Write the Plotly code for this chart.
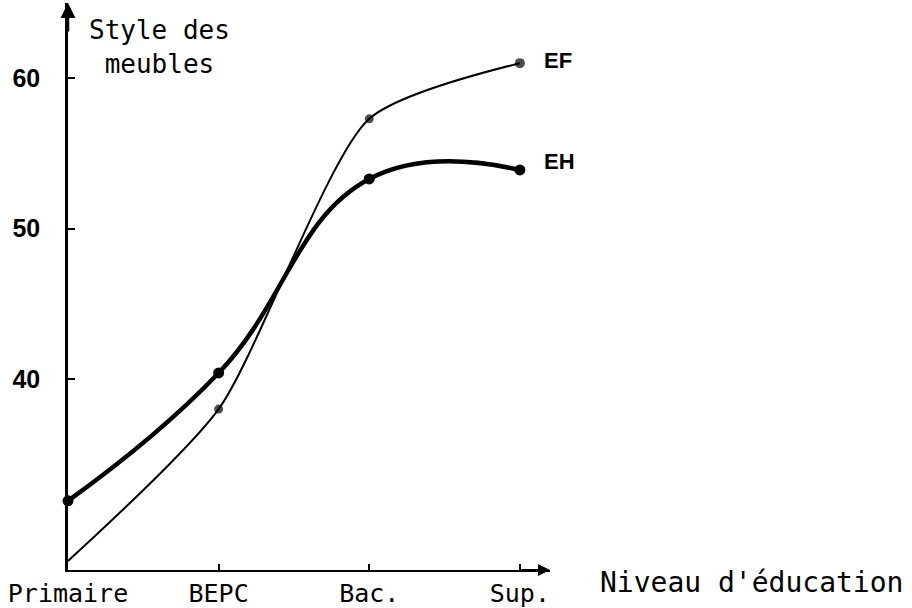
import plotly.graph_objects as go

# Niveau d'éducation (x categories)
niveaux = ["Primaire", "BEPC", "Bac.", "Sup."]

# Style des meubles
ef_values = [27.9, 38.0, 57.3, 61.0]   # EF, thin line, no dot at Primaire
eh_values = [31.9, 40.4, 53.3, 53.9]   # EH, thick line

y_ticks = [40, 50, 60]

MONO = "DejaVu Sans Mono"
SANS = "Liberation Sans"

Y_MIN, Y_MAX = 27.3, 65
X_MAX = 3.2

fig = go.Figure()

fig.add_trace(go.Scatter(
    x=niveaux,
    y=ef_values,
    mode="lines+markers",
    line=dict(color="black", width=2, shape="spline", smoothing=0.65),
    marker=dict(color="black", size=[0, 9, 9, 10], line=dict(width=0)),
    cliponaxis=False,
    showlegend=False,
))

fig.add_trace(go.Scatter(
    x=niveaux,
    y=eh_values,
    mode="lines+markers",
    line=dict(color="black", width=4.5, shape="spline", smoothing=1.25),
    marker=dict(color="black", size=11, line=dict(width=0)),
    cliponaxis=False,
    showlegend=False,
))

# curve labels at the Sup. end
for name, vals, up in [("EF", ef_values, 3), ("EH", eh_values, 8)]:
    fig.add_annotation(
        x=niveaux[-1], y=vals[-1], text=name, showarrow=False,
        xanchor="left", xshift=22, yshift=up,
        font=dict(family=SANS, size=22, color="black", weight="bold"),
    )

# axis arrow heads
fig.add_annotation(x=X_MAX, y=Y_MIN, ax=-30, ay=0, text="", showarrow=True,
                   arrowhead=2, arrowsize=1.2, arrowwidth=2, arrowcolor="black")
fig.add_annotation(x=0, y=Y_MAX, ax=0, ay=30, text="", showarrow=True,
                   arrowhead=2, arrowsize=1.2, arrowwidth=2.5, arrowcolor="black")

fig.add_annotation(
    xref="paper", yref="paper", x=0.04, y=1.0, yshift=-10, yanchor="top",
    xanchor="left", text="Style des<br>meubles", showarrow=False,
    align="center", font=dict(family=MONO, size=26, color="black"),
)
fig.add_annotation(
    xref="paper", yref="paper", x=1.1, y=0.0, yshift=-12, xanchor="left",
    yanchor="middle", text="Niveau d'éducation", showarrow=False,
    font=dict(family=MONO, size=28, color="black"),
)

fig.update_xaxes(
    type="category",
    range=[0, X_MAX],
    automargin=False,
    showline=True, linecolor="black", linewidth=2,
    ticks="inside", ticklen=6, tickwidth=1.5, tickcolor="black",
    showgrid=False, zeroline=False,
    tickfont=dict(family=MONO, size=25, color="black"),
    ticklabelstandoff=0,
)
fig.update_yaxes(
    range=[Y_MIN, Y_MAX],
    automargin=False,
    tickvals=y_ticks,
    ticktext=[str(v) for v in y_ticks],
    showline=True, linecolor="black", linewidth=2.5,
    ticks="inside", ticklen=7, tickwidth=1.5, tickcolor="black",
    showgrid=False, zeroline=False,
    tickfont=dict(family=SANS, size=25, color="black", weight="bold"),
    ticklabelstandoff=20,
)

fig.update_layout(
    width=912,
    height=608,
    margin=dict(l=68, r=362, t=3, b=38),
    plot_bgcolor="white",
    paper_bgcolor="white",
)

# drop the browser's default body margin so the figure sits at the page corner
fig.write_html(
    "out.html",
    config={"displayModeBar": False},
    post_script="document.body.style.margin = '0';",
)
